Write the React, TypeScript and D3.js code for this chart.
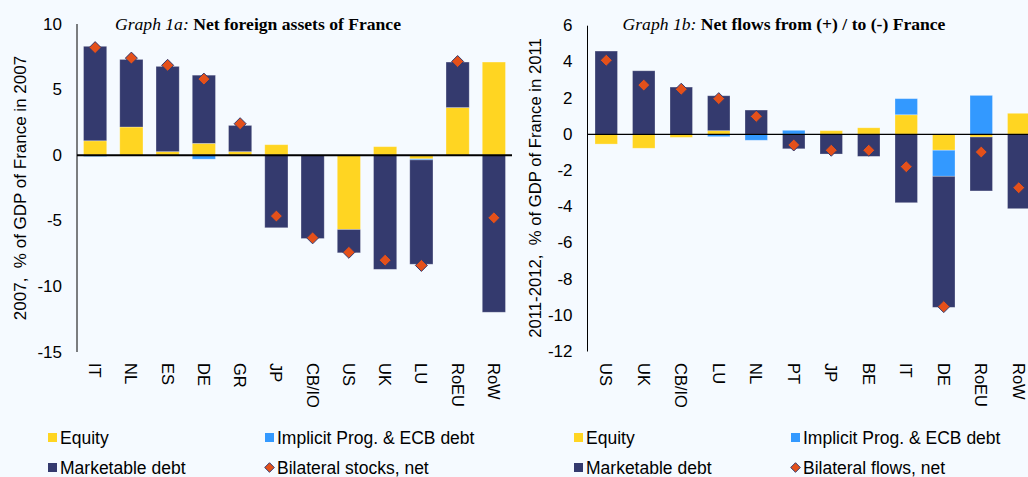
import React from 'react';
import * as d3 from 'd3';

// Graph 1a: net foreign assets of France, 2007
const leftCats = ['IT', 'NL', 'ES', 'DE', 'GR', 'JP', 'CB/IO', 'US', 'UK', 'LU', 'RoEU', 'RoW'];
const leftEquity = [1.1, 2.15, 0.27, 0.9, 0.27, 0.8, 0, -5.66, 0.65, -0.28, 3.63, 7.1];
const leftImplicit = [-0.1, 0, 0, -0.3, 0, 0, 0, 0, 0, -0.08, 0, 0];
const leftMarketable = [7.2, 5.15, 6.5, 5.2, 2.0, -5.53, -6.35, -1.78, -8.7, -7.95, 3.47, -11.97];
const leftNet = [8.2, 7.4, 6.85, 5.8, 2.4, -4.64, -6.3, -7.4, -8.0, -8.4, 7.14, -4.77];
const leftTicks = [10, 5, 0, -5, -10, -15];

// Graph 1b: net flows 2011-2012
const rightCats = ['US', 'UK', 'CB/IO', 'LU', 'NL', 'PT', 'JP', 'BE', 'IT', 'DE', 'RoEU', 'RoW'];
const rightEquity = [-0.54, -0.77, -0.17, 0.2, 0, 0, 0.2, 0.36, 1.08, -0.88, -0.15, 1.16];
const rightImplicit = [0, 0, 0, -0.13, -0.33, 0.22, 0, 0, 0.89, -1.44, 2.15, 0];
const rightMarketable = [4.6, 3.51, 2.61, 1.93, 1.34, -0.8, -1.09, -1.22, -3.78, -7.24, -2.98, -4.11];
const rightNet = [4.09, 2.72, 2.49, 1.97, 0.99, -0.59, -0.88, -0.88, -1.79, -9.52, -0.98, -2.95];
const rightTicks = [6, 4, 2, 0, -2, -4, -6, -8, -10, -12];

const seriesKeys = ['equity', 'implicit', 'marketable'];
const colors: Record<string, string> = {
  equity: '#ffd522',
  implicit: '#3399ff',
  marketable: '#343a6e',
};
const diamondFill = '#e4501a';
const sans = '"Liberation Sans", Arial, sans-serif';
const serif = '"Liberation Serif", "Times New Roman", serif';

function diamond(cx: number, cy: number, r: number) {
  return `M${cx},${cy - r}L${cx + r},${cy}L${cx},${cy + r}L${cx - r},${cy}Z`;
}

type PanelProps = {
  cats: string[];
  equity: number[];
  implicit: number[];
  marketable: number[];
  net: number[];
  ticks: number[];
  domain: [number, number];
  xRange: [number, number];
  yRange: [number, number];
  pad: number;
  zeroWidth: number;
  titleA: string;
  titleB: string;
  titleX: number;
  yLabel: string;
  yLabelX: number;
  yLabelSize: number;
  netLabel: string;
  legendX: [number, number];
};

function Panel(p: PanelProps) {
  const rows = p.cats.map((c, i) => ({
    cat: c,
    equity: p.equity[i],
    implicit: p.implicit[i],
    marketable: p.marketable[i],
  }));
  const stack = d3.stack<any>().keys(seriesKeys).offset(d3.stackOffsetDiverging);
  const layers = stack(rows);

  const x = d3.scaleBand().domain(p.cats).range(p.xRange).paddingInner(p.pad).paddingOuter(p.pad / 2);
  const y = d3.scaleLinear().domain(p.domain).range(p.yRange);
  const axisX = p.xRange[0];

  return (
    <g>
      <text x={p.titleX} y={30} textAnchor="middle" fontFamily={serif} fontSize={17.6}>
        <tspan fontStyle="italic">{p.titleA}</tspan>
        <tspan fontWeight="bold">{' ' + p.titleB}</tspan>
      </text>

      {layers.map((layer) => (
        <g key={layer.key} fill={colors[layer.key]}>
          {layer.map((d, i) => {
            const top = y(Math.max(d[0], d[1]));
            const bot = y(Math.min(d[0], d[1]));
            if (bot - top < 0.1) return null;
            return (
              <rect
                key={i}
                x={x(p.cats[i])}
                y={top}
                width={x.bandwidth()}
                height={bot - top}
                stroke="rgba(255,255,255,0.35)"
                strokeWidth={0.8}
              />
            );
          })}
        </g>
      ))}

      <line x1={axisX} x2={p.xRange[1]} y1={y(0)} y2={y(0)} stroke="#000" strokeWidth={p.zeroWidth} />
      <line x1={axisX} x2={axisX} y1={y(p.domain[1])} y2={y(p.domain[0])} stroke="#000" strokeWidth={1} />

      {p.net.map((v, i) => (
        <path
          key={i}
          d={diamond(x(p.cats[i])! + x.bandwidth() / 2, y(v), 6)}
          fill={diamondFill}
          stroke="#343a6e"
          strokeWidth={1}
        />
      ))}

      {p.ticks.map((t) => (
        <text
          key={t}
          x={axisX - 15}
          y={y(t)}
          textAnchor="end"
          dominantBaseline="central"
          fontFamily={sans}
          fontSize={17}
        >
          {t}
        </text>
      ))}

      {p.cats.map((c) => (
        <text
          key={c}
          transform={`translate(${x(c)! + x.bandwidth() / 2},${363}) rotate(90)`}
          dominantBaseline="central"
          fontFamily={sans}
          fontSize={16.5}
        >
          {c}
        </text>
      ))}

      <text
        transform={`translate(${p.yLabelX},${188}) rotate(-90)`}
        textAnchor="middle"
        dominantBaseline="central"
        fontFamily={sans}
        fontSize={p.yLabelSize}
        style={{ whiteSpace: 'pre' }}
      >
        {p.yLabel}
      </text>

      <g fontFamily={sans} fontSize={17.5}>
        <rect x={p.legendX[0]} y={433} width={9} height={9} fill={colors.equity} />
        <text x={p.legendX[0] + 12} y={438} dominantBaseline="central">Equity</text>
        <rect x={p.legendX[1]} y={433} width={9} height={9} fill={colors.implicit} />
        <text x={p.legendX[1] + 12} y={438} dominantBaseline="central">Implicit Prog. &amp; ECB debt</text>
        <rect x={p.legendX[0]} y={463} width={9} height={9} fill={colors.marketable} />
        <text x={p.legendX[0] + 12} y={467.5} dominantBaseline="central">Marketable debt</text>
        <path d={diamond(p.legendX[1] + 4.5, 467.5, 4.8)} fill={diamondFill} stroke="#343a6e" strokeWidth={1} />
        <text x={p.legendX[1] + 12} y={467.5} dominantBaseline="central">{p.netLabel}</text>
      </g>
    </g>
  );
}

export default function App() {
  return (
    <svg
      width={1028}
      height={477}
      style={{ position: 'absolute', left: 0, top: 0, display: 'block' }}
    >
      <rect width={1028} height={477} fill="#f5faff" />
      <Panel
        cats={leftCats}
        equity={leftEquity}
        implicit={leftImplicit}
        marketable={leftMarketable}
        net={leftNet}
        ticks={leftTicks}
        domain={[-15, 10]}
        xRange={[77, 512]}
        yRange={[352, 24]}
        pad={0.36}
        zeroWidth={2}
        titleA="Graph 1a:"
        titleB="Net foreign assets of France"
        titleX={258}
        yLabel="2007,  % of GDP of France in 2007"
        yLabelX={20}
        yLabelSize={17}
        netLabel="Bilateral stocks, net"
        legendX={[48, 265]}
      />
      <Panel
        cats={rightCats}
        equity={rightEquity}
        implicit={rightImplicit}
        marketable={rightMarketable}
        net={rightNet}
        ticks={rightTicks}
        domain={[-12, 6]}
        xRange={[587.5, 1037.5]}
        yRange={[351.5, 25.7]}
        pad={0.4}
        zeroWidth={1.2}
        titleA="Graph 1b:"
        titleB="Net flows from (+) / to (-) France"
        titleX={784}
        yLabel="2011-2012,  % of GDP of France in 2011"
        yLabelX={535}
        yLabelSize={16.7}
        netLabel="Bilateral flows, net"
        legendX={[574, 791]}
      />
    </svg>
  );
}
